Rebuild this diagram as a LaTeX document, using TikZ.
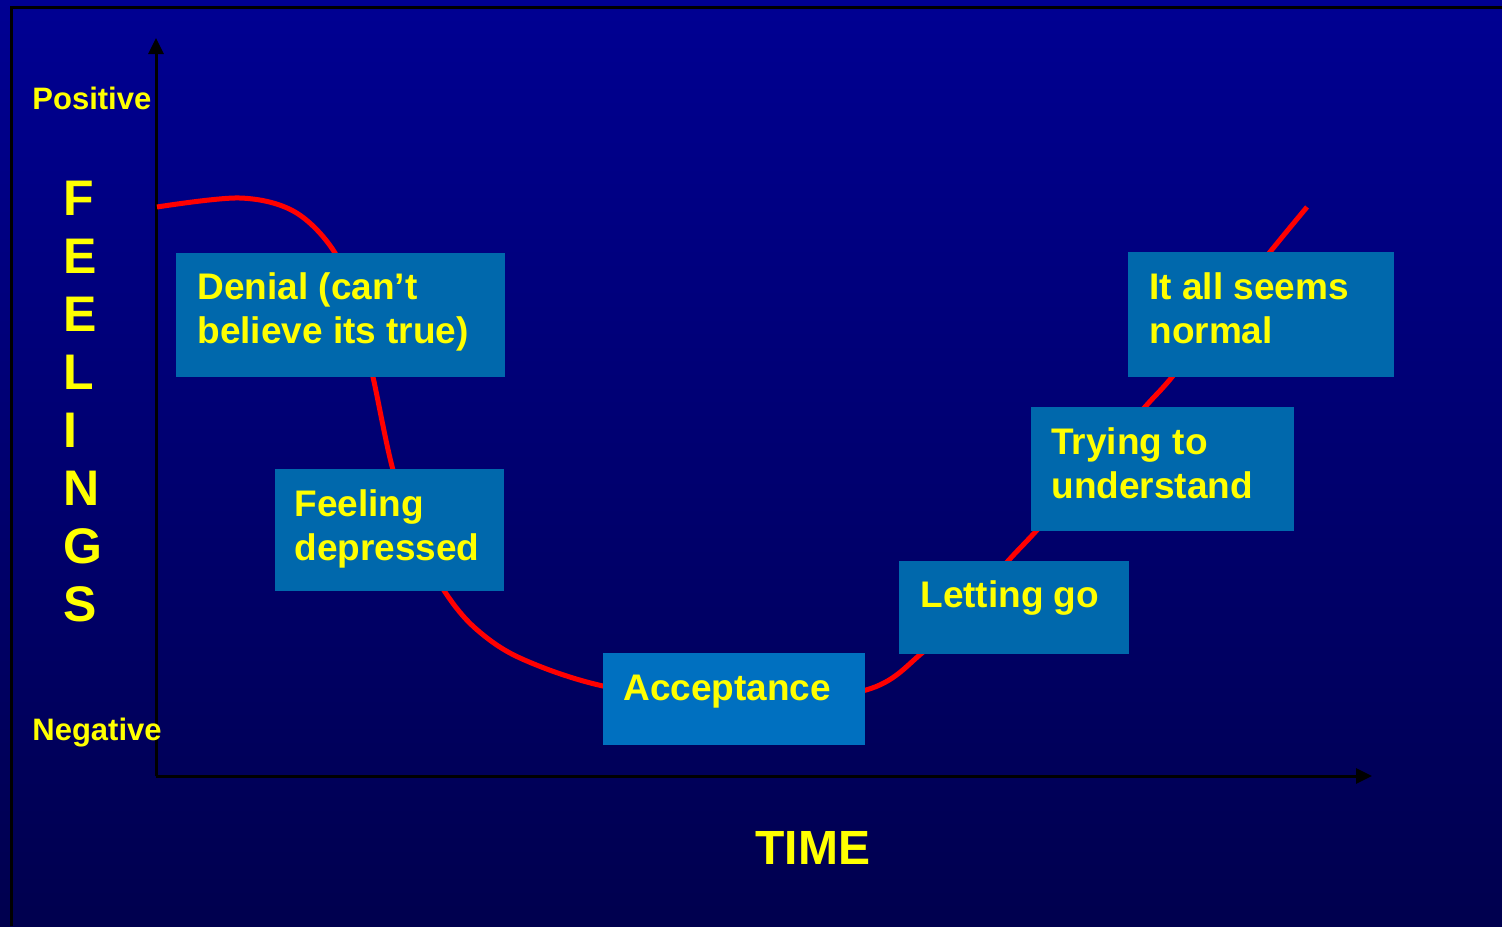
\documentclass[tikz,border=0pt]{standalone}
\usepackage{fontspec}
\setmainfont{Liberation Sans}
\usetikzlibrary{arrows.meta}
\definecolor{bgtop}{RGB}{0,0,146}
\definecolor{bgbot}{RGB}{0,0,78}
\definecolor{boxblue}{RGB}{0,104,172}
\definecolor{boxlight}{RGB}{0,112,192}
\definecolor{txtyellow}{RGB}{255,255,0}
\definecolor{curvered}{RGB}{255,0,0}
\tikzset{
  stagebox/.style={fill=boxblue, draw=none, inner sep=0pt, anchor=north west},
  stagetext/.style={text=txtyellow, font=\fontsize{18.5pt}{22pt}\bfseries\selectfont, anchor=base west, inner sep=0pt, align=left},
  axislabel/.style={text=txtyellow, font=\fontsize{15.5pt}{18pt}\bfseries\selectfont, anchor=base west, inner sep=0pt},
  bigletter/.style={text=txtyellow, font=\fontsize{25pt}{29pt}\bfseries\selectfont, anchor=base west, inner sep=0pt},
  axisline/.style={line width=1.5pt, draw=black, -{Triangle[length=8pt,width=7.5pt]}},
  feelcurve/.style={draw=curvered, line width=2.5pt}
}
\begin{document}
\begin{tikzpicture}[x=0.5pt,y=-0.5pt]
\useasboundingbox (0,0) rectangle (1502,926);
\shade[top color=bgtop, bottom color=bgbot] (0,0) rectangle (1502,926);
% frame
\draw[line width=1.5pt, black] (11.5,926) -- (11.5,7.5) -- (1502,7.5);
% axes
\coordinate (origin) at (156,776);
\coordinate (ytop) at (156,38);
\coordinate (xend) at (1372,776);
\draw[axisline] (origin) -- (ytop);
\draw[axisline] (origin) -- (xend);
% curve
\draw[feelcurve] plot[smooth, tension=0.55] coordinates {
 (157,207) (240,198) (295,212) (335,253) (358,315) (373,377) (393,470)
 (418,542) (445,592) (475,628) (520,658) (603,686) (735,706) (866,690)
 (922,653) (968,607) (1008,561) (1037,530) (1091,469) (1145,407)
 (1172,377) (1221,314) (1270,252) (1307,207)};
% boxes
\node[stagebox, minimum width=164.5pt, minimum height=62pt] (denial) at (176,253) {};
\node[stagebox, minimum width=114.5pt, minimum height=61pt] (depressed) at (275,469) {};
\node[stagebox, fill=boxlight, minimum width=131pt, minimum height=46pt] (acceptance) at (603,653) {};
\node[stagebox, minimum width=115pt, minimum height=46.5pt] (letting) at (899,561) {};
\node[stagebox, minimum width=131.5pt, minimum height=62pt] (trying) at (1031,407) {};
\node[stagebox, minimum width=133pt, minimum height=62.5pt] (normal) at (1128,252) {};
% box texts (base anchor = last line baseline)
\node[stagetext] (tdenial) at (197,343) {Denial (can’t\\believe its true)};
\node[stagetext] (tdepressed) at (294,560) {Feeling\\depressed};
\node[stagetext] (tacceptance) at (623,700) {Acceptance};
\node[stagetext] (tletting) at (920,607) {Letting go};
\node[stagetext] (ttrying) at (1051,498) {Trying to\\understand};
\node[stagetext] (tnormal) at (1149,343) {It all seems\\normal};
% axis labels
\node[axislabel] (positive) at (32,109) {Positive};
\node[axislabel] (negative) at (32,740) {Negative};
\node[text=txtyellow, font=\fontsize{24pt}{28pt}\bfseries\selectfont, anchor=base west, inner sep=0pt] (time) at (755,864) {TIME};
\node[bigletter] (f1) at (63,215) {F};
\node[bigletter] (f2) at (63,273) {E};
\node[bigletter] (f3) at (63,331) {E};
\node[bigletter] (f4) at (63,389) {L};
\node[bigletter] (f5) at (63,447) {I};
\node[bigletter] (f6) at (63,505) {N};
\node[bigletter] (f7) at (63,563) {G};
\node[bigletter] (f8) at (63,621) {S};
\end{tikzpicture}
\end{document}
